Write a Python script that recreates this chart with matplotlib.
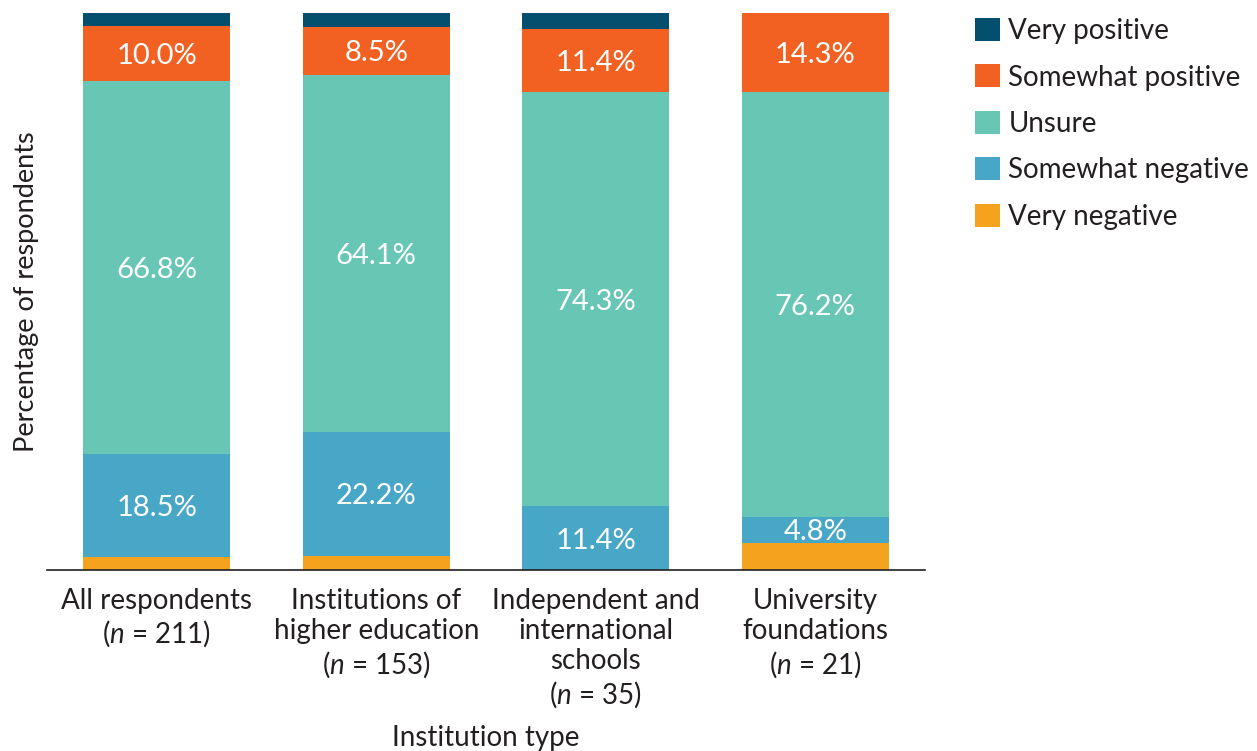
import numpy as np
import matplotlib
matplotlib.use('Agg')
import matplotlib.pyplot as plt
from matplotlib.patches import Patch

#----------------------------------------------------data

categories = ['All respondents\n($n$ = 211)',
              'Institutions of\nhigher education\n($n$ = 153)',
              'Independent and\ninternational\nschools\n($n$ = 35)',
              'University\nfoundations\n($n$ = 21)']

# bottom to top
series_names = ['Very negative', 'Somewhat negative', 'Unsure', 'Somewhat positive', 'Very positive']
very_negative = [2.4, 2.6, 0.0, 4.8]
somewhat_negative = [18.5, 22.2, 11.4, 4.8]
unsure = [66.8, 64.1, 74.3, 76.2]
somewhat_positive = [10.0, 8.5, 11.4, 14.3]
very_positive = [2.3, 2.6, 2.9, 0.0]

colors = ['#F5A21E', '#48A6C7', '#68C6B4', '#F26122', '#044F6E']
labelled = [False, True, True, True, False]

#----------------------------------------------------style

plt.rcParams['font.family'] = ['Lato', 'DejaVu Sans']
plt.rcParams['mathtext.fontset'] = 'custom'
plt.rcParams['mathtext.it'] = 'Lato:italic'
plt.rcParams['mathtext.rm'] = 'Lato'
txt_col = '#231F20'

fig = plt.figure(figsize=(12.57, 7.51), dpi=100)
ax = fig.add_axes([0.0374, 0.241, 0.6985, 0.742])

x = np.arange(len(categories))
data = [very_negative, somewhat_negative, unsure, somewhat_positive, very_positive]
bottom = np.zeros(len(categories))
for vals, col, name, lab in zip(data, colors, series_names, labelled):
  vals = np.array(vals)
  ax.bar(x, vals, bottom=bottom, width=0.67, color=col, label=name, linewidth=0)
  if lab:
    for xi, b, v in zip(x, bottom, vals):
      if v > 0:
        ax.text(xi, b + v / 2, '{0:.1f}%'.format(v), ha='center', va='center_baseline',
                color='white', fontsize=21)
  bottom = bottom + vals

ax.set_xlim(-0.5, 3.5)
ax.set_ylim(0, 100)
ax.set_xticks(x)
ax.set_xticklabels(categories, fontsize=20, color=txt_col, linespacing=1.2, va='top')
ax.tick_params(axis='x', length=0, pad=13)
ax.set_yticks([])
for s in ['top', 'right', 'left']:
  ax.spines[s].set_visible(False)
ax.spines['bottom'].set_color('#231F20')
ax.spines['bottom'].set_linewidth(1.2)

ax.set_ylabel('Percentage of respondents', fontsize=19.5, color=txt_col, labelpad=6)
fig.text(0.3866, 0.0, 'Institution type', ha='center', va='bottom', fontsize=20, color=txt_col)

handles = [Patch(facecolor=c, label=n) for c, n in zip(colors[::-1], series_names[::-1])]
leg = fig.legend(handles=handles, loc='upper left', bbox_to_anchor=(0.7757, 0.976),
                 frameon=False, fontsize=20, handlelength=0.9, handleheight=0.9,
                 handletextpad=0.3, labelspacing=0.73, borderpad=0, borderaxespad=0)
for t in leg.get_texts():
  t.set_color(txt_col)

fig.savefig('out.png', dpi=100)
